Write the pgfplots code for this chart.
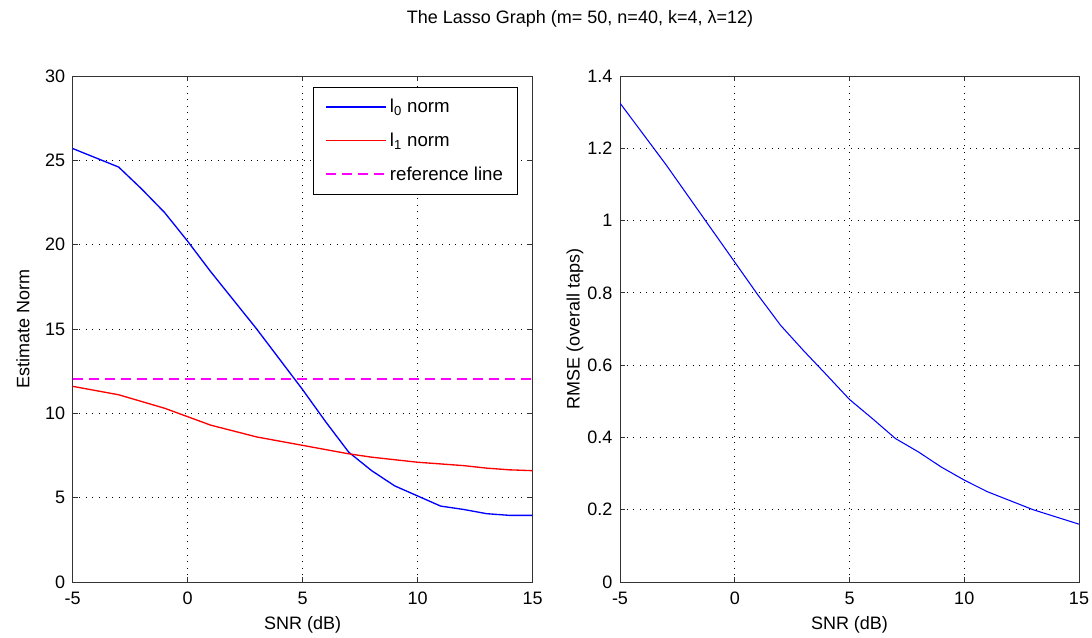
\documentclass[border=0pt]{standalone}
\usepackage{fontspec}
\setmainfont{Liberation Sans}
\usepackage{pgfplots}
\pgfplotsset{compat=1.18}
\definecolor{mblue}{RGB}{0,0,255}
\definecolor{mred}{RGB}{255,0,0}
\definecolor{mmag}{RGB}{255,0,255}
\begin{document}
\fontsize{13.5}{16}\selectfont
\begin{tikzpicture}
\path[use as bounding box] (0pt,0pt) rectangle (819pt,478.5pt);
\pgfplotsset{
  myax/.style={
    scale only axis,
    width=345pt, height=379.5pt,
    xmin=-5, xmax=15,
    xtick={-5,0,5,10,15},
    tick pos=both,
    tick align=inside,
    major tick length=4pt,
    axis line style={draw=black!80, line width=0.6pt},
    major tick style={draw=black!80, line width=0.6pt},
    grid=major,
    major grid style={draw=black, line width=0.7pt, dash pattern=on 0.75pt off 4.2pt},
    /pgf/number format/assume math mode=true,
    tick label style={font=\fontsize{13.5}{16}\selectfont},
    label style={font=\fontsize{13.5}{16}\selectfont},
    xlabel={SNR (dB)},
    xlabel style={at={(axis description cs:0.5,-0.085)}, anchor=center},
    xticklabel style={yshift=-3pt},
    yticklabel style={xshift=-1pt},
  }
}
\begin{axis}[myax,
  at={(54.5pt,42pt)}, anchor=south west,
  ymin=0, ymax=30, ytick={0,5,10,15,20,25,30},
  ylabel={Estimate Norm},
  ylabel style={at={(axis description cs:-0.108,0.5)}, anchor=center},
  legend style={at={(0.968,0.978)}, anchor=north east,
    font=\fontsize{14}{17}\selectfont, row sep=9pt, inner xsep=9pt, inner ysep=7pt},
  legend cell align=left,
  legend image code/.code={\draw[#1, line width=1.3pt] (0pt,0.4pt) -- (45pt,0.4pt);},
]
\addplot[draw=mblue, line width=1pt] coordinates {
(-5,25.7) (-3,24.6) (-2,23.3) (-1,21.9) (0,20.2) (1,18.4) (2,16.7) (3,15.0)
(4,13.2) (5,11.4) (6,9.5) (7,7.7) (8,6.6) (9,5.7) (10,5.1) (11,4.5)
(12,4.3) (13,4.05) (14,3.95) (15,3.95)};
\addlegendentry{l\textsubscript{0} norm}
\addplot[draw=mred, line width=1pt] coordinates {
(-5,11.6) (-3,11.1) (-1,10.3) (0,9.8) (1,9.3) (2,8.95) (3,8.6) (4,8.35)
(5,8.1) (6,7.85) (7,7.6) (8,7.4) (9,7.25) (10,7.1) (11,7.0) (12,6.9)
(13,6.75) (14,6.65) (15,6.6)};
\addlegendentry{l\textsubscript{1} norm}
\addplot[draw=mmag, line width=1.2pt, dash pattern=on 7.5pt off 4.5pt] coordinates {(-5,12.02) (15,12.02)};
\addlegendentry{reference line}
\end{axis}
\begin{axis}[myax,
  at={(465pt,42pt)}, anchor=south west,
  width=344.25pt,
  ymin=0, ymax=1.4, ytick={0,0.2,0.4,0.6,0.8,1,1.2,1.4},
  ylabel={RMSE (overall taps)},
  ylabel style={at={(axis description cs:-0.098,0.5)}, anchor=center},
]
\addplot[draw=mblue, line width=0.8pt] coordinates {
(-5,1.325) (-4,1.24) (-3,1.155) (-2,1.065) (-1,0.975) (0,0.885) (1,0.795)
(2,0.71) (3,0.64) (4,0.573) (5,0.505) (6,0.452) (7,0.397) (8,0.36) (9,0.318)
(10,0.282) (11,0.25) (12,0.225) (13,0.2) (14,0.18) (15,0.16)};
\end{axis}
\node[font=\fontsize{13.5}{16}\selectfont] at (435pt,464pt) {The Lasso Graph (m= 50, n=40, k=4, λ=12)};
\end{tikzpicture}
\end{document}
